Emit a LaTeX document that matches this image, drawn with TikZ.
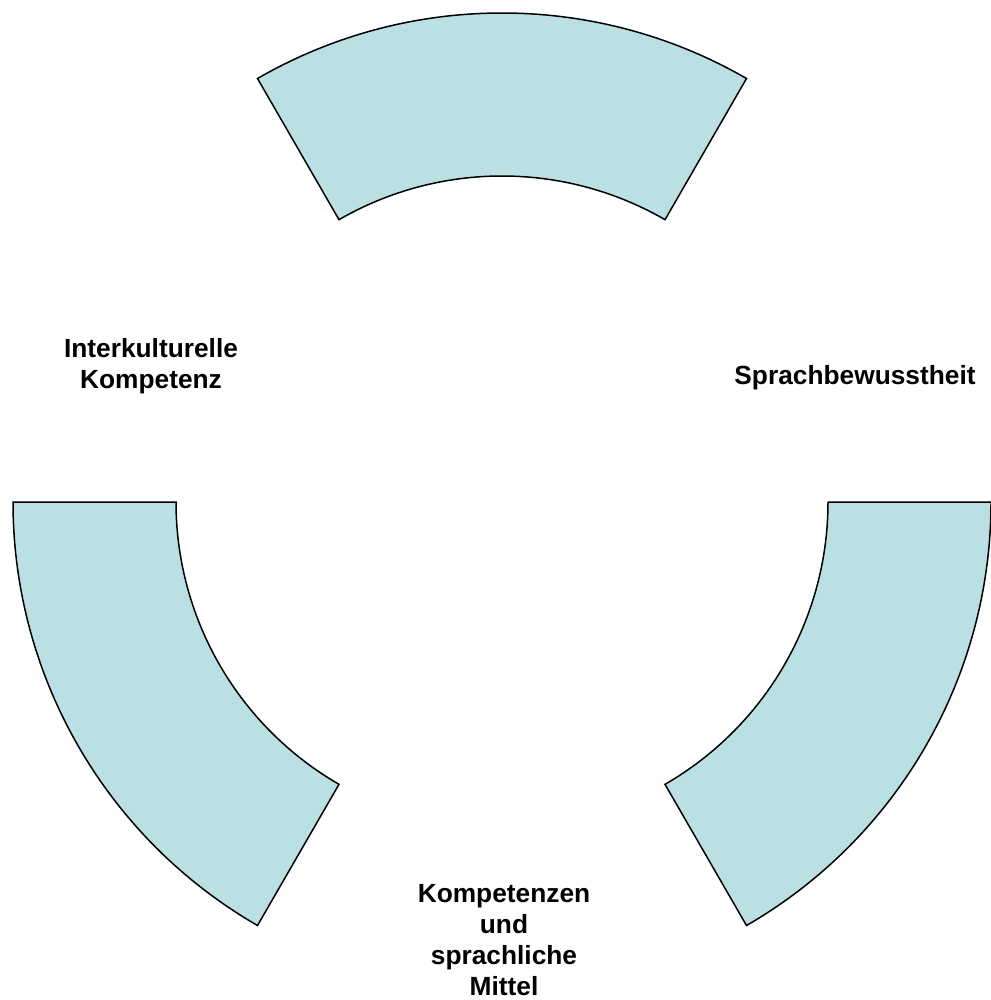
\documentclass[tikz,border=0pt]{standalone}
\usepackage{fontspec}
\setmainfont{Liberation Sans}
\usetikzlibrary{calc}
\definecolor{segfill}{HTML}{BBE0E3}
\tikzset{
  seg/.style={draw=black, line width=1.5pt, fill=segfill, line join=miter},
  lbl/.style={font=\fontsize{26.3}{31.2}\selectfont\bfseries, align=center, inner sep=0pt, text=black}
}
\begin{document}
\begin{tikzpicture}[x=1pt,y=1pt]
\useasboundingbox (0,0) rectangle (990,-1000);
\coordinate (c) at (502,-502);
\def\Ro{489}\def\Ri{326}
\foreach \a/\b in {60/120,180/240,300/360}{
  \draw[seg] ($(c)+(\a:\Ro)$) arc[start angle=\a, end angle=\b, radius=\Ro]
    -- ($(c)+(\b:\Ri)$) arc[start angle=\b, end angle=\a, radius=\Ri] -- cycle;
}
\node[lbl] (ik) at (151,-366) {Interkulturelle\\Kompetenz};
\node[lbl] (sb) at (855,-378) {Sprachbewusstheit};
\node[lbl] (km) at (504,-940) {Kompetenzen\\und\\sprachliche\\Mittel};
\end{tikzpicture}
\end{document}
